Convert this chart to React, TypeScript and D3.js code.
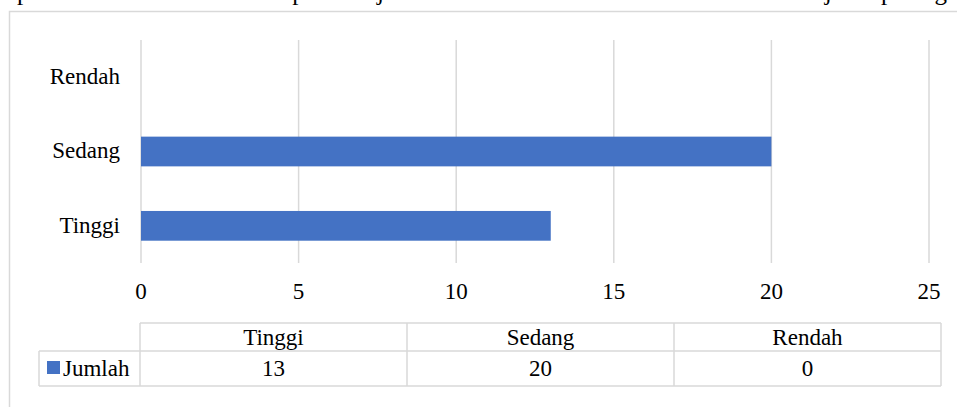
import { scaleBand, scaleLinear } from 'd3'

const categories = ['Tinggi', 'Sedang', 'Rendah']
const jumlah = [13, 20, 0]
const xTicks = [0, 5, 10, 15, 20, 25]
const seriesName = 'Jumlah'

// clipped line of document text above the chart
const headerWords: [string, number][] = [
  ['pan model', 17],
  ['dalam pembelajaran', 225],
  ['serta hasil', 560],
  ['sejarah pada g', 804],
]

const width = 957
const height = 407
const plot = { left: 141, right: 929, top: 40, bottom: 263 }
const table = { left: 140, right: 941, top: 323, mid: 351, bottom: 386, legendLeft: 39 }

const font = "'Times New Roman', 'Liberation Serif', serif"
const grid = '#d9d9d9'
const barColor = '#4472c4'

const App = () => {
  const x = scaleLinear().domain([0, 25]).range([plot.left, plot.right])
  const y = scaleBand<string>()
    .domain([...categories].reverse())
    .range([plot.top, plot.bottom])
    .paddingInner(0.6)
    .paddingOuter(0.3)
  const col = scaleBand<string>().domain(categories).range([table.left, table.right])

  return (
    <svg
      width={width}
      height={height}
      viewBox={`0 0 ${width} ${height}`}
      style={{ position: 'absolute', left: 0, top: 0, background: '#fff' }}
      fontFamily={font}
    >
      {headerWords.map(([w, px]) => (
        <text key={w} x={px} y={-0.5} fontSize={25} fill="#000">
          {w}
        </text>
      ))}

      <rect x={9.5} y={11.5} width={960} height={410} fill="none" stroke={grid} strokeWidth={1.5} />

      {xTicks.map((t) => (
        <g key={t}>
          <line x1={x(t)} x2={x(t)} y1={plot.top} y2={plot.bottom} stroke={grid} strokeWidth={1.5} />
          <text x={x(t)} y={299} textAnchor="middle" fontSize={23} fill="#000">
            {t}
          </text>
        </g>
      ))}

      {categories.map((c, i) => (
        <g key={c}>
          <rect
            x={x(0)}
            y={y(c) ?? 0}
            width={x(jumlah[i]) - x(0)}
            height={y.bandwidth()}
            fill={barColor}
          />
          <text
            x={120}
            y={(y(c) ?? 0) + y.bandwidth() / 2}
            dy="0.3em"
            textAnchor="end"
            fontSize={23}
            fill="#000"
          >
            {c}
          </text>
        </g>
      ))}

      {/* data table */}
      <g stroke={grid} strokeWidth={1.5} fill="none">
        <line x1={table.left} x2={table.right} y1={table.top} y2={table.top} />
        <line x1={table.legendLeft} x2={table.right} y1={table.mid} y2={table.mid} />
        <line x1={table.legendLeft} x2={table.right} y1={table.bottom} y2={table.bottom} />
        <line x1={table.legendLeft} x2={table.legendLeft} y1={table.mid} y2={table.bottom} />
        {categories.map((c) => (
          <line key={c} x1={col(c) ?? 0} x2={col(c) ?? 0} y1={table.top} y2={table.bottom} />
        ))}
        <line x1={table.right} x2={table.right} y1={table.top} y2={table.bottom} />
      </g>
      {categories.map((c, i) => (
        <g key={c}>
          <text
            x={(col(c) ?? 0) + col.bandwidth() / 2}
            y={345}
            textAnchor="middle"
            fontSize={23}
            fill="#000"
          >
            {c}
          </text>
          <text
            x={(col(c) ?? 0) + col.bandwidth() / 2}
            y={376}
            textAnchor="middle"
            fontSize={23}
            fill="#000"
          >
            {jumlah[i]}
          </text>
        </g>
      ))}
      <rect x={47} y={361} width={13} height={13} fill={barColor} />
      <text x={63} y={376} fontSize={23} fill="#000">
        {seriesName}
      </text>
    </svg>
  )
}

export default App
